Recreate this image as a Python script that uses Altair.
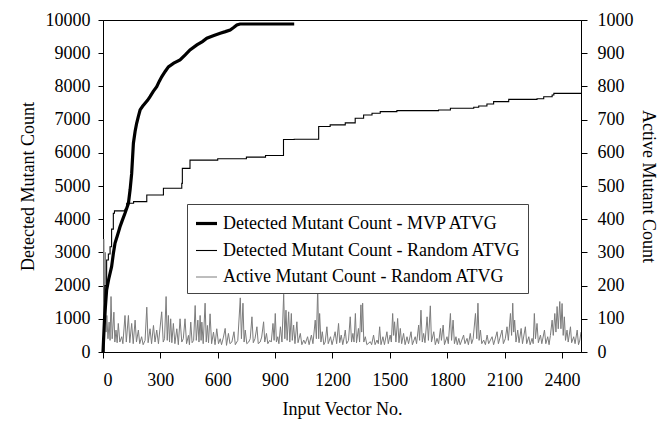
import altair as alt
import pandas as pd

# ---- data ----
mvp_x = [0, 8, 19, 30, 45, 55, 63, 75, 89, 100, 115, 133, 142, 150, 159, 168, 176, 185, 194, 207,
         220, 233, 246, 263, 281, 294, 307, 325, 342, 370, 403, 430, 455, 491, 520, 543, 580, 613,
         640, 665, 685, 700, 717, 850, 1000]
mvp_y = [0, 1000, 1870, 2200, 2570, 3000, 3280, 3500, 3770, 3950, 4180, 4480, 4900, 5380, 6290, 6650,
         6890, 7100, 7290, 7400, 7490, 7580, 7690, 7850, 7990, 8150, 8290, 8450, 8590, 8700, 8800,
         8950, 9100, 9250, 9350, 9450, 9530, 9600, 9650, 9700, 9780, 9850, 9880, 9880, 9880]

rnd_x = [0, 5, 10, 19, 28, 37, 45, 54, 60, 115, 124, 160, 229, 316, 412, 415, 455, 600, 750, 850,
         944, 1000, 1128, 1188, 1267, 1319, 1363, 1407, 1450, 1537, 1755, 1817, 1939, 1965, 2008,
         2043, 2122, 2270, 2305, 2349, 2358, 2500]
rnd_y = [0, 1000, 2000, 2770, 2950, 3170, 3700, 4180, 4250, 4300, 4480, 4530, 4730, 4930, 5080, 5530,
         5780, 5820, 5870, 5920, 6400, 6410, 6790, 6840, 6900, 7040, 7140, 7190, 7240, 7270, 7290,
         7340, 7370, 7410, 7470, 7540, 7610, 7630, 7690, 7740, 7790, 7810]

act_pts = [
    (0, 0), (4, 340), (8, 150), (12, 300), (16, 60), (20, 110), (26, 40), (32, 90), (37, 35), (42, 167),
    (48, 40), (57, 120), (62, 30), (68, 66), (74, 28), (80, 86), (88, 30), (98, 46), (104, 25), (115, 110),
    (122, 30), (133, 110), (140, 28), (150, 86), (158, 25), (168, 96), (175, 30), (185, 66), (192, 25),
    (202, 46), (210, 22), (220, 35), (229, 135), (236, 28), (246, 70), (254, 25), (264, 80), (272, 30),
    (281, 66), (290, 25), (307, 121), (315, 30), (322, 40), (330, 167), (336, 35), (342, 110), (348, 30),
    (354, 100), (360, 28), (368, 86), (376, 25), (386, 70), (394, 22), (403, 100), (412, 30), (420, 40),
    (429, 100), (437, 25), (447, 50), (452, 22), (459, 90), (466, 28), (474, 35), (482, 140), (488, 35),
    (496, 96), (502, 30), (508, 110), (513, 35), (517, 90), (524, 25), (534, 147), (540, 30), (546, 80),
    (552, 28), (560, 115), (568, 25), (578, 60), (586, 22), (595, 70), (604, 25), (613, 40), (620, 22),
    (630, 45), (639, 71), (646, 20), (656, 56), (664, 25), (674, 30), (685, 61), (692, 22), (705, 35),
    (718, 163), (724, 40), (732, 147), (738, 30), (744, 66), (752, 25), (762, 30), (770, 40), (779, 106),
    (786, 28), (795, 40), (805, 76), (812, 25), (822, 30), (830, 45), (840, 91), (846, 30), (855, 56),
    (862, 25), (872, 35), (880, 30), (889, 86), (895, 35), (901, 116), (907, 30), (914, 46), (920, 25),
    (928, 76), (936, 30), (945, 174), (951, 40), (957, 126), (963, 35), (971, 121), (977, 30), (985, 116),
    (990, 35), (997, 81), (1004, 25), (1014, 91), (1020, 28), (1032, 56), (1040, 22), (1050, 36),
    (1058, 25), (1070, 46), (1078, 22), (1090, 51), (1098, 25), (1110, 96), (1116, 40), (1123, 192),
    (1128, 40), (1133, 116), (1140, 30), (1147, 61), (1155, 22), (1162, 30), (1171, 76), (1178, 25),
    (1190, 46), (1198, 22), (1206, 40), (1214, 61), (1222, 25), (1232, 86), (1238, 28), (1246, 51),
    (1254, 22), (1262, 46), (1267, 66), (1274, 25), (1284, 35), (1293, 106), (1300, 30), (1307, 56),
    (1313, 30), (1320, 116), (1326, 28), (1336, 71), (1342, 30), (1349, 142), (1353, 60), (1358, 147),
    (1364, 30), (1372, 46), (1380, 22), (1398, 31), (1405, 22), (1415, 51), (1423, 22), (1433, 36),
    (1440, 25), (1447, 76), (1454, 22), (1464, 46), (1472, 22), (1485, 61), (1492, 25), (1502, 51),
    (1508, 30), (1515, 116), (1520, 50), (1525, 91), (1532, 30), (1541, 101), (1548, 28), (1555, 71),
    (1562, 25), (1572, 56), (1580, 22), (1590, 46), (1598, 25), (1611, 61), (1618, 22), (1633, 46),
    (1640, 25), (1651, 81), (1656, 35), (1663, 126), (1670, 30), (1677, 56), (1684, 28), (1695, 106),
    (1702, 35), (1712, 139), (1718, 30), (1730, 61), (1738, 22), (1747, 41), (1755, 25), (1765, 71),
    (1770, 35), (1779, 81), (1786, 22), (1799, 46), (1806, 25), (1817, 116), (1823, 35), (1831, 96),
    (1838, 25), (1846, 46), (1853, 22), (1861, 41), (1868, 22), (1886, 51), (1893, 25), (1904, 41),
    (1911, 22), (1921, 56), (1928, 25), (1936, 40), (1948, 116), (1955, 40), (1961, 147), (1967, 35),
    (1974, 66), (1981, 25), (1991, 36), (2000, 22), (2009, 51), (2017, 25), (2035, 46), (2043, 22),
    (2061, 61), (2068, 25), (2087, 66), (2094, 25), (2104, 40), (2113, 76), (2120, 35), (2131, 116),
    (2137, 50), (2143, 147), (2148, 60), (2153, 96), (2160, 30), (2169, 66), (2176, 28), (2187, 71),
    (2194, 25), (2209, 76), (2216, 25), (2227, 46), (2234, 22), (2244, 41), (2250, 25), (2256, 116),
    (2262, 40), (2270, 86), (2277, 28), (2288, 51), (2295, 25), (2309, 66), (2316, 25), (2326, 46),
    (2333, 22), (2340, 50), (2349, 96), (2355, 50), (2363, 116), (2369, 60), (2375, 137), (2381, 70),
    (2389, 152), (2395, 70), (2401, 146), (2407, 50), (2413, 106), (2419, 35), (2427, 66), (2433, 30),
    (2445, 76), (2451, 28), (2462, 46), (2469, 25), (2480, 66), (2487, 22), (2494, 36), (2500, 60),
]
act_x = [p[0] for p in act_pts]
act_y = [p[1] for p in act_pts]

series_names = ["Detected Mutant Count - MVP ATVG",
                "Detected Mutant Count - Random ATVG",
                "Active Mutant Count - Random ATVG"]
x_ticks = [0, 300, 600, 900, 1200, 1500, 1800, 2100, 2400]
left_ticks = list(range(0, 10001, 1000))
right_ticks = list(range(0, 1001, 100))

df_mvp = pd.DataFrame({"x": mvp_x, "y": mvp_y, "s": series_names[0]})
df_rnd = pd.DataFrame({"x": rnd_x, "y": rnd_y, "s": series_names[1]})
df_act = pd.DataFrame({"x": act_x, "y": act_y, "s": series_names[2]})

FONT = "Liberation Serif"
FS = 18

leg = dict(title=None, orient="none", legendX=84, legendY=184,
           symbolType="stroke", symbolSize=441, labelFontSize=FS,
           labelFont=FONT, labelColor="black", padding=7, rowPadding=6, labelOffset=4,
           strokeColor="#444444", fillColor="white", labelLimit=400)

xenc = alt.X("x:Q", scale=alt.Scale(domain=[0, 2500], nice=False),
             axis=alt.Axis(values=x_ticks, title="Input Vector No.", grid=False, format="d",
                           labelPadding=13, titlePadding=11, tickSize=6))
color = alt.Color("s:N", scale=alt.Scale(domain=series_names, range=["#000000", "#000000", "#7c7c7c"]),
                  legend=alt.Legend(**leg))
swidth = alt.StrokeWidth("s:N", scale=alt.Scale(type="ordinal", domain=series_names, range=[3.2, 1.1, 1.0]),
                         legend=alt.Legend(**leg))

left_y = alt.Y("y:Q", scale=alt.Scale(domain=[0, 10000], nice=False),
               axis=alt.Axis(orient="left", values=left_ticks, title="Detected Mutant Count", format="d",
                             grid=False, tickSize=5, labelPadding=8, titlePadding=8))
right_y = alt.Y("y:Q", scale=alt.Scale(domain=[0, 1000], nice=False),
                axis=alt.Axis(orient="right", values=right_ticks, title="Active Mutant Count", format="d",
                              grid=False, tickSize=6, labelPadding=10, titlePadding=5))

act = alt.Chart(df_act).mark_line(clip=True).encode(x=xenc, y=right_y, color=color, strokeWidth=swidth)
mvp = alt.Chart(df_mvp).mark_line().encode(x=xenc, y=left_y, color=color, strokeWidth=swidth)
rnd = alt.Chart(df_rnd).mark_line(interpolate="step-after").encode(x=xenc, y=left_y, color=color,
                                                                   strokeWidth=swidth)

left_layer = alt.layer(mvp, rnd)
chart = alt.layer(act, left_layer).resolve_scale(y="independent").properties(
    width=478, height=332,
    background="white",
    autosize=alt.AutoSizeParams(type="none"),
    padding={"left": 95, "top": 12, "right": 83, "bottom": 80},
).configure_axis(
    labelFont=FONT, titleFont=FONT, labelFontSize=FS, titleFontSize=FS,
    titleFontWeight="normal", labelColor="black", titleColor="black",
    domainColor="black", tickColor="black",
).configure_view(stroke="black", strokeWidth=1)

chart.save("out.html", embed_options={"renderer": "svg", "actions": False})
